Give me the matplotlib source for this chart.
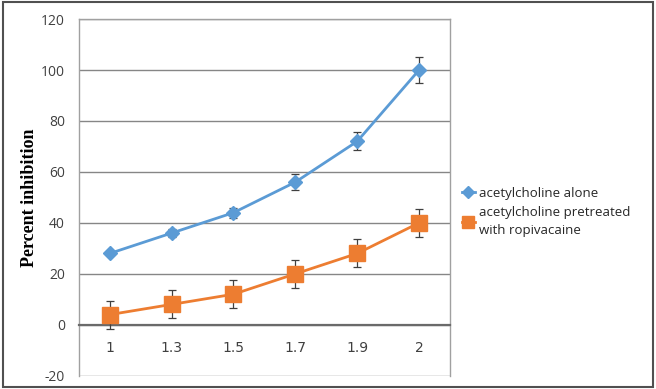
import matplotlib.pyplot as plt
from matplotlib.patches import Rectangle
from matplotlib.lines import Line2D

plt.rcParams['axes.unicode_minus'] = False

categories = ["1", "1.3", "1.5", "1.7", "1.9", "2"]
alone = [28, 36, 44, 56, 72, 100]
alone_err = [0.5, 1.5, 2, 3, 3.5, 5]
ropi = [4, 8, 12, 20, 28, 40]
ropi_err = [5.5, 5.5, 5.5, 5.5, 5.5, 5.5]

blue = '#5B9BD5'
orange = '#ED7D31'

fig = plt.figure(figsize=(6.56, 3.89), dpi=100)
ax = fig.add_axes([0.120, 0.034, 0.566, 0.917])

x = list(range(len(categories)))
ax.errorbar(x, alone, yerr=alone_err, color=blue, marker='D', markersize=7,
            linewidth=2, ecolor='#404040', elinewidth=0.9, capsize=3, capthick=0.9,
            zorder=3)
ax.errorbar(x, ropi, yerr=ropi_err, color=orange, marker='s', markersize=11,
            linewidth=2, ecolor='#404040', elinewidth=0.9, capsize=3, capthick=0.9,
            zorder=3)

ax.set_xlim(-0.5, 5.5)
ax.set_ylim(-20, 120)
ax.set_yticks(range(-20, 121, 20))
ax.set_xticks(x)
ax.set_xticklabels(categories)
ax.grid(axis='y', color='#868686', linewidth=1)
ax.set_axisbelow(True)
ax.tick_params(length=0, labelsize=10, colors='#404040', pad=10)
ax.tick_params(axis='x', pad=12)
for lab in ax.get_xticklabels() + ax.get_yticklabels():
    lab.set_family('Open Sans')

ax.spines['bottom'].set_position(('data', 0))
ax.spines['bottom'].set_color('#6a6a6a')
ax.spines['bottom'].set_linewidth(1.6)
for s in ['left', 'right', 'top']:
    ax.spines[s].set_color('#a0a0a0')
    ax.spines[s].set_linewidth(1)

ax.set_ylabel('Percent inhibition', fontsize=13, fontweight='bold',
              family='Liberation Serif', labelpad=2)

handles = [
    Line2D([], [], color=blue, marker='D', markersize=6, linewidth=2),
    Line2D([], [], color=orange, marker='s', markersize=8, linewidth=2),
]
labels = ['acetylcholine alone', 'acetylcholine pretreated\nwith ropivacaine']
leg = ax.legend(handles, labels, loc='center left', bbox_to_anchor=(1.0, 0.46),
                frameon=False, handlelength=1.0, handletextpad=0.3, labelspacing=0.5,
                prop={'family': 'Open Sans', 'size': 9.5})
for t in leg.get_texts():
    t.set_linespacing(1.45)
    t.set_color('#262626')

fig.patches.append(Rectangle((0.004, 0.006), 0.992, 0.988, transform=fig.transFigure,
                             fill=False, edgecolor='#505050', linewidth=1.5))

fig.savefig('out.png', dpi=100)
